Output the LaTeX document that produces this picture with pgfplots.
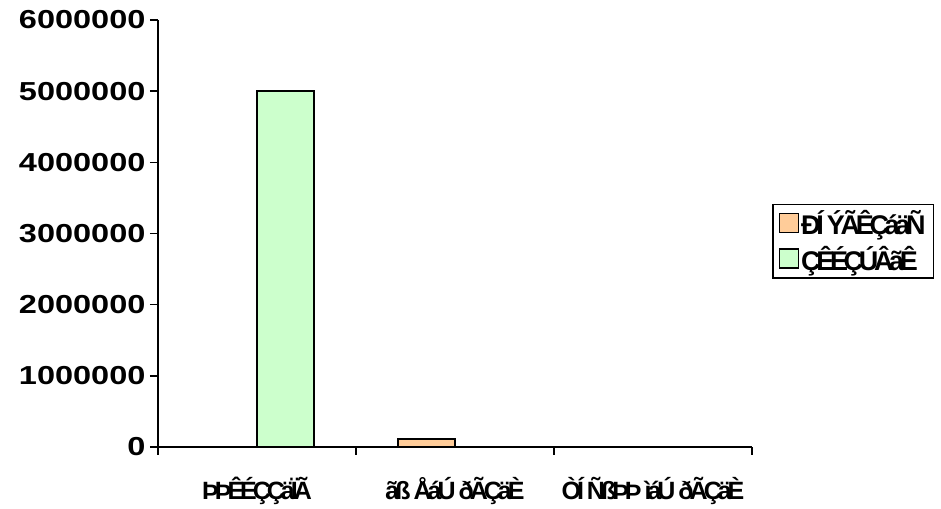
\documentclass[border=0pt]{standalone}
\usepackage{fontspec}
\setmainfont{Liberation Sans}
\newfontfamily\numfont{Liberation Sans Bold}
\newfontfamily\lblfont{Liberation Sans Bold}[LetterSpace=-16]
\usepackage{pgfplots}
\pgfplotsset{compat=1.18}
\definecolor{cOrange}{HTML}{FFCC99}
\definecolor{cGreen}{HTML}{CCFFCC}
\begin{document}
\begin{tikzpicture}
\path (-158pt,-60pt) rectangle (783pt,447pt);
\begin{axis}[
  scale only axis, width=594pt, height=427pt,
  xmin=-0.5, xmax=2.5, ymin=0, ymax=6000000,
  axis x line*=bottom, axis y line*=left,
  axis line style={line width=1.5pt, black},
  ybar=0pt, bar width=57pt,
  ytick={0,1000000,2000000,3000000,4000000,5000000,6000000},
  scaled y ticks=false,
  /pgf/number format/assume math mode=true,
  yticklabel={\scalebox{1.25}[1]{\pgfmathprintnumber{\tick}}},
  yticklabel style={/pgf/number format/fixed, /pgf/number format/1000 sep={}, font=\fontsize{26}{26}\selectfont\numfont, xshift=-1pt},
  xtick={-0.5,0.5,1.5,2.5}, xticklabels={},
  extra x ticks={0,1,2},
  extra x tick labels={ÞÞÊÉÇÇäÏÃ, ãß ÅáÚ ðÃÇäÈ, ÒÍ ÑßÞÞ ìáÚ ðÃÇäÈ},
  extra x tick style={major tick length=0pt, xticklabel style={font=\fontsize{25}{25}\selectfont\lblfont, yshift=-27pt}},
  tick align=outside, major tick length=8pt,
  tick style={line width=1.5pt, black},
  legend style={at={(1.034,0.482)}, anchor=west, draw=black, line width=1.5pt,
    font=\fontsize{27}{27}\selectfont\lblfont, row sep=6pt, inner xsep=6pt, inner ysep=4pt},
  legend cell align=left,
  legend image code/.code={\draw[#1, line width=1.2pt] (0pt,-9pt) rectangle (19pt,10pt);},
]
\addplot[draw=black, line width=1.5pt, fill=cOrange] coordinates {(0,0) (1,110000) (2,0)};
\addplot[draw=black, line width=1.5pt, fill=cGreen] coordinates {(0,5000000) (1,0) (2,0)};
\legend{ÐÍ ÝÃÊÇáäÑ, ÇÊÉÇÚÂãÊ}
\end{axis}
\end{tikzpicture}
\end{document}
